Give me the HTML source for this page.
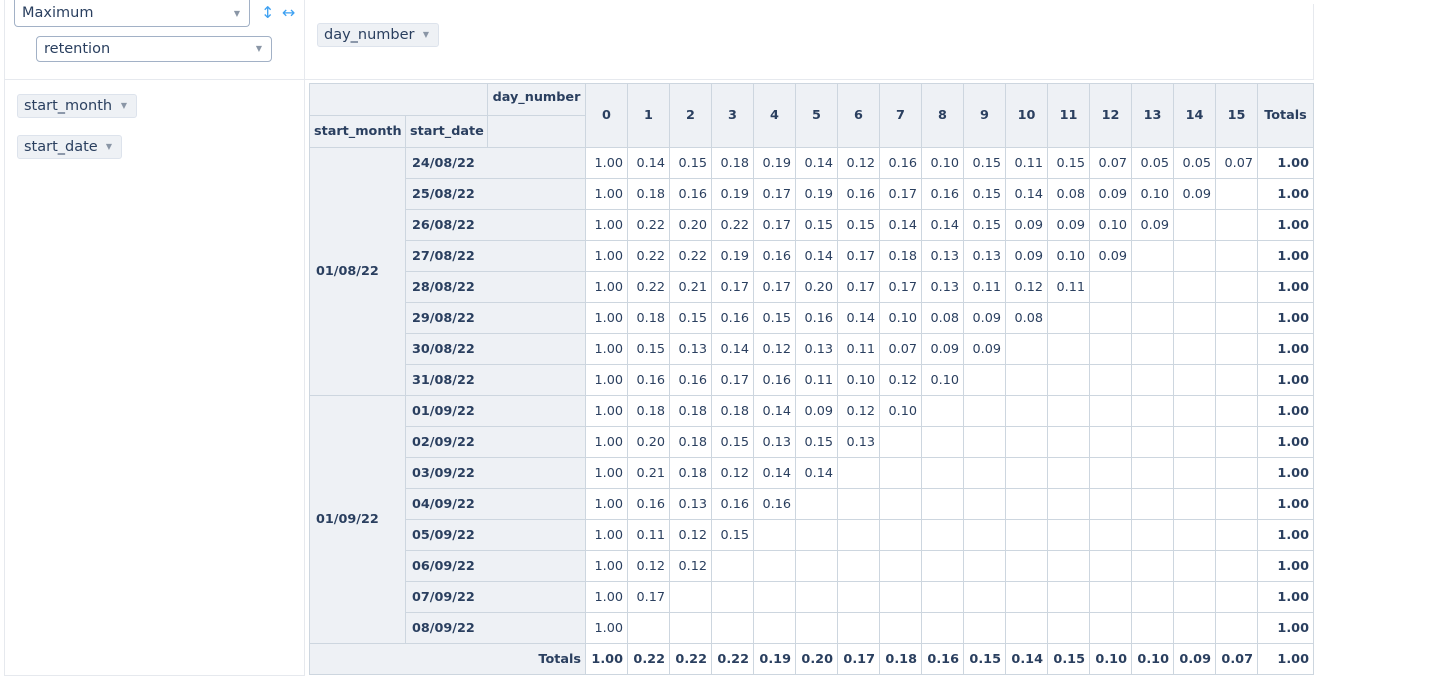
<!DOCTYPE html>
<html><head><meta charset="utf-8">
<style>
*{box-sizing:border-box}
body{margin:0;width:1442px;height:682px;background:#fff;font-family:"DejaVu Sans","Liberation Sans",sans-serif;color:#2a3f5f;position:relative;overflow:hidden}
.abs{position:absolute}
.line{position:absolute;background:#e6e9ee}
.dd{position:absolute;border:1px solid #a2b1c6;border-radius:4px;background:#fff;font-size:14.5px;color:#2a3f5f;padding-left:7px;line-height:24px}
.dd .car,.pill .car{position:absolute;right:9px;font-size:8px;color:#8a96a6}
.pill{position:absolute;background:#eef1f5;border:1px solid #dde3ec;border-radius:3px;font-size:14.5px;padding-left:6px;line-height:22px}
table{position:absolute;left:309px;top:83px;width:1004px;border-collapse:collapse;table-layout:fixed;font-size:12.8px}
td,th{border:1px solid #cdd6df;padding:0 4px;height:31px;white-space:nowrap;overflow:hidden}
th{background:#eef1f5;font-weight:bold}
td{text-align:right;background:#fff}
.h1 th{height:32px}.h2 th{height:32px}
.rowh{text-align:left;padding-left:6px}
.tot{font-weight:bold}
</style></head><body>
<div class="line" style="left:4px;top:0;width:1px;height:676px"></div>
<div class="line" style="left:304px;top:0;width:1px;height:676px"></div>
<div class="line" style="left:1313px;top:4px;width:1px;height:76px"></div>
<div class="line" style="left:4px;top:79px;width:1310px;height:1px"></div>
<div class="line" style="left:4px;top:675px;width:301px;height:1px"></div>

<div class="dd" style="left:14px;top:0;width:236px;height:27px;border-top:none;border-radius:0 0 4px 4px;line-height:27px">Maximum<span class="car">▼</span></div>
<div class="dd" style="left:36px;top:36px;width:236px;height:26px">retention<span class="car">▼</span></div>
<div class="abs" style="left:261px;top:3px;color:#3ea1f2;font-size:16px">↕</div>
<div class="abs" style="left:282px;top:3px;color:#3ea1f2;font-size:16px">↔</div>

<div class="pill" style="left:317px;top:23px;width:122px;height:24px">day_number<span class="car">▼</span></div>
<div class="pill" style="left:17px;top:94px;width:120px;height:24px">start_month<span class="car">▼</span></div>
<div class="pill" style="left:17px;top:135px;width:105px;height:24px">start_date<span class="car">▼</span></div>

<table id="pt">
<colgroup><col style="width:96px"><col style="width:82px"><col style="width:98px"></colgroup>
</table>
<script>
const days=["0","1","2","3","4","5","6","7","8","9","10","11","12","13","14","15"];
const months=["01/08/22","01/09/22"];
const monthRows=[8,8];
const dates=["24/08/22","25/08/22","26/08/22","27/08/22","28/08/22","29/08/22","30/08/22","31/08/22","01/09/22","02/09/22","03/09/22","04/09/22","05/09/22","06/09/22","07/09/22","08/09/22"];
const values=[
["1.00","0.14","0.15","0.18","0.19","0.14","0.12","0.16","0.10","0.15","0.11","0.15","0.07","0.05","0.05","0.07"],
["1.00","0.18","0.16","0.19","0.17","0.19","0.16","0.17","0.16","0.15","0.14","0.08","0.09","0.10","0.09"],
["1.00","0.22","0.20","0.22","0.17","0.15","0.15","0.14","0.14","0.15","0.09","0.09","0.10","0.09"],
["1.00","0.22","0.22","0.19","0.16","0.14","0.17","0.18","0.13","0.13","0.09","0.10","0.09"],
["1.00","0.22","0.21","0.17","0.17","0.20","0.17","0.17","0.13","0.11","0.12","0.11"],
["1.00","0.18","0.15","0.16","0.15","0.16","0.14","0.10","0.08","0.09","0.08"],
["1.00","0.15","0.13","0.14","0.12","0.13","0.11","0.07","0.09","0.09"],
["1.00","0.16","0.16","0.17","0.16","0.11","0.10","0.12","0.10"],
["1.00","0.18","0.18","0.18","0.14","0.09","0.12","0.10"],
["1.00","0.20","0.18","0.15","0.13","0.15","0.13"],
["1.00","0.21","0.18","0.12","0.14","0.14"],
["1.00","0.16","0.13","0.16","0.16"],
["1.00","0.11","0.12","0.15"],
["1.00","0.12","0.12"],
["1.00","0.17"],
["1.00"]];
const rowTotals=["1.00","1.00","1.00","1.00","1.00","1.00","1.00","1.00","1.00","1.00","1.00","1.00","1.00","1.00","1.00","1.00"];
const colTotals=["1.00","0.22","0.22","0.22","0.19","0.20","0.17","0.18","0.16","0.15","0.14","0.15","0.10","0.10","0.09","0.07"];
const grandTotal="1.00";

const t=document.getElementById('pt');
const cg=t.querySelector('colgroup');
cg.children[0].style.width='96px';cg.children[1].style.width='82px';cg.children[2].style.width='98px';
days.forEach(()=>{const c=document.createElement('col');c.style.width='42px';cg.appendChild(c);});
{const c=document.createElement('col');c.style.width='56px';cg.appendChild(c);}
function cell(tag,txt,cls){const e=document.createElement(tag);e.textContent=txt;if(cls)e.className=cls;return e;}
let r=document.createElement('tr');r.className='h1';
let e=cell('th','');e.colSpan=2;


r.appendChild(e);
e=cell('th','day_number');e.style.verticalAlign='top';e.style.paddingTop='6px';


r.appendChild(e);
days.forEach(d=>{const h=cell('th',d);h.rowSpan=2;


r.appendChild(h);});
e=cell('th','Totals');e.rowSpan=2;


r.appendChild(e);
t.appendChild(r);
r=document.createElement('tr');r.className='h2';
e=cell('th','start_month');e.style.textAlign='left';


r.appendChild(e);
e=cell('th','start_date');e.style.textAlign='left';


r.appendChild(e);
e=cell('th','');r.appendChild(e);
t.appendChild(r);
let idx=0;
months.forEach((m,mi)=>{
  for(let k=0;k<monthRows[mi];k++,idx++){
    r=document.createElement('tr');
    if(k===0){e=cell('th',m,'rowh');e.rowSpan=monthRows[mi];
      
      
      r.appendChild(e);}
    e=cell('th',dates[idx],'rowh');e.colSpan=2;
    
    
    r.appendChild(e);
    days.forEach((d,j)=>{const c=cell('td',values[idx][j]||'');
      
      
      r.appendChild(c);});
    e=cell('td',rowTotals[idx],'tot');
    
    
    r.appendChild(e);
    t.appendChild(r);
  }
});
r=document.createElement('tr');
e=cell('th','Totals');e.colSpan=3;e.style.textAlign='right';


r.appendChild(e);
colTotals.forEach(v=>{const c=cell('td',v,'tot');
  
  
  r.appendChild(c);});
e=cell('td',grandTotal,'tot');


r.appendChild(e);
t.appendChild(r);
</script>
</body></html>
